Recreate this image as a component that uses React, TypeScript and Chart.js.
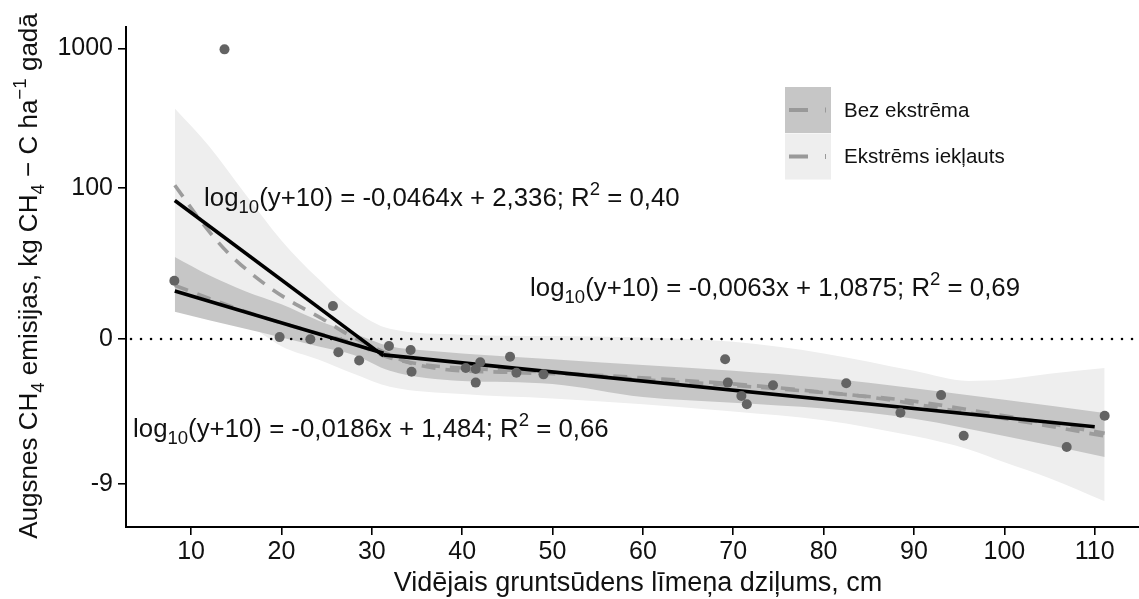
import React, { useEffect, useRef } from "react";
import { Chart, registerables } from "chart.js";

Chart.register(...registerables);

const FONT = "'Liberation Sans', Arial, Helvetica, sans-serif";

// Observations: mean groundwater depth (cm) and soil CH4 emission (kg CH4-C ha-1 yr-1)
const depthCm = [
  8.15, 13.7, 19.8, 23.2, 25.7, 26.3, 28.6, 31.9, 34.3, 34.4, 40.4, 41.5, 41.5, 42.0,
  45.3, 46.0, 49.0, 69.1, 69.4, 70.9, 71.5, 74.4, 82.5, 88.5, 93.0, 95.5, 106.9, 111.1,
];
const emission = [
  15.2, 985, 0.3, -0.05, 6.9, -1.9, -2.9, -1.05, -1.6, -4.05, -3.7, -3.8, -5.0, -3.1,
  -2.45, -4.15, -4.3, -2.75, -5.0, -5.95, -6.45, -5.2, -5.05, -6.9, -5.9, -7.85, -8.2, -7.05,
];

// Axis settings (y axis is drawn on the log10(y + 10) scale)
const X_MIN = 2.8;
const X_MAX = 114.9;
const T_MIN = -0.297;
const T_MAX = 3.152;
const xTicks = [10, 20, 30, 40, 50, 60, 70, 80, 90, 100, 110];
const yTicks = [-9, 0, 100, 1000];

// Loess smooth with the extreme value included, on log10(y + 10)
const smoothAllX = [8.2, 11.5, 14, 17.3, 20.5, 24.5, 27.4, 31, 34, 38, 45, 55, 63, 70, 78, 85, 95, 103, 111.1];
const smoothAllT = [2.06, 1.78, 1.6, 1.42, 1.28, 1.14, 1.03, 0.92, 0.84, 0.79, 0.77, 0.75, 0.72, 0.69, 0.645, 0.6, 0.5, 0.42, 0.33];
const bandAllX = [8.2, 12, 16, 20, 24, 28, 32, 40, 50, 60, 70, 80, 90, 96, 100, 105, 111.1];
const bandAllLow = [1.51, 1.3, 1.12, 0.95, 0.86, 0.76, 0.67, 0.62, 0.59, 0.55, 0.5, 0.44, 0.33, 0.24, 0.15, 0.04, -0.12];
const bandAllHigh = [2.59, 2.33, 2.0, 1.68, 1.42, 1.2, 1.07, 1.03, 1.02, 1.01, 0.98, 0.9, 0.78, 0.71, 0.72, 0.76, 0.8];

// Loess smooth without the extreme value
const smoothNoX = [8.2, 12, 16, 20, 24, 28, 32, 36, 40, 50, 60, 70, 80, 90, 100, 111.1];
const smoothNoT = [1.37, 1.28, 1.19, 1.11, 1.04, 0.97, 0.87, 0.82, 0.8, 0.77, 0.72, 0.68, 0.63, 0.57, 0.47, 0.35];
const bandNoX = [8.2, 12, 16, 20, 24, 28, 32, 36, 40, 50, 60, 70, 80, 90, 100, 111.1];
const bandNoLow = [1.188, 1.13, 1.07, 1.01, 0.95, 0.89, 0.78, 0.73, 0.71, 0.69, 0.6, 0.56, 0.52, 0.45, 0.33, 0.186];
const bandNoHigh = [1.566, 1.44, 1.33, 1.24, 1.13, 1.04, 0.95, 0.92, 0.9, 0.86, 0.82, 0.78, 0.73, 0.66, 0.58, 0.49];

// Segmented linear fits: log10(y + 10) = slope * x + intercept
const fitSlope = [-0.0464, -0.0186, -0.0063];
const fitIntercept = [2.336, 1.484, 1.0875];
const fitR2 = [0.4, 0.66, 0.69];
const fitFrom = [8.2, 8.2, 31.3];
const fitTo = [31.3, 31.3, 110];

// Where each equation label starts (data units: x, log10(y + 10) baseline)
const labelAt = [
  [11.44, 1.917],
  [3.58, 0.324],
  [47.52, 1.297],
];

const legendLabels = ["Bez ekstrēma", "Ekstrēms iekļauts"];

const tf = (y: number) => Math.log10(y + 10);
const comma = (v: number) => String(v).replace(".", ",");

type Run = { t: string; k?: "sub" | "sup" };

function runsWidth(ctx: CanvasRenderingContext2D, runs: Run[], size: number) {
  let w = 0;
  for (const r of runs) {
    const fs = r.k ? size * 0.72 : size;
    ctx.font = `${fs}px ${FONT}`;
    w += ctx.measureText(r.t).width;
  }
  return w;
}

function drawRuns(ctx: CanvasRenderingContext2D, runs: Run[], x: number, y: number, size: number) {
  let cx = x;
  ctx.textBaseline = "alphabetic";
  ctx.textAlign = "left";
  for (const r of runs) {
    const fs = r.k ? size * 0.72 : size;
    const dy = r.k === "sub" ? size * 0.26 : r.k === "sup" ? -size * 0.42 : 0;
    ctx.font = `${fs}px ${FONT}`;
    ctx.fillText(r.t, cx, y + dy);
    cx += ctx.measureText(r.t).width;
  }
}

const decorations = {
  id: "decorations",
  afterDraw(chart: any) {
    const ctx: CanvasRenderingContext2D = chart.ctx;
    const xs = chart.scales.x;
    const ys = chart.scales.y;
    ctx.save();
    ctx.fillStyle = "#111";

    // fit equations
    for (let i = 0; i < fitSlope.length; i++) {
      const runs: Run[] = [
        { t: "log" },
        { t: "10", k: "sub" },
        { t: `(y+10) = ${comma(fitSlope[i])}x + ${comma(fitIntercept[i])}; R` },
        { t: "2", k: "sup" },
        { t: ` = ${fitR2[i].toFixed(2).replace(".", ",")}` },
      ];
      drawRuns(ctx, runs, xs.getPixelForValue(labelAt[i][0]), ys.getPixelForValue(labelAt[i][1]), 25.8);
    }

    // legend
    const lx = 785;
    const boxFill = ["#c6c6c6", "#eeeeee"];
    for (let i = 0; i < 2; i++) {
      const top = 87 + i * 46.5;
      ctx.fillStyle = boxFill[i];
      ctx.fillRect(lx, top, 46, 46);
      ctx.strokeStyle = "#999999";
      ctx.lineWidth = 4;
      ctx.beginPath();
      ctx.moveTo(789, top + 23);
      ctx.lineTo(808, top + 23);
      ctx.stroke();
      ctx.lineWidth = 1;
      ctx.beginPath();
      ctx.moveTo(825.5, top + 20.5);
      ctx.lineTo(825.5, top + 25.5);
      ctx.stroke();
      ctx.fillStyle = "#111";
      ctx.font = `20.5px ${FONT}`;
      ctx.textBaseline = "middle";
      ctx.textAlign = "left";
      ctx.fillText(legendLabels[i], 844, top + 24);
    }

    // axis titles
    ctx.fillStyle = "#111";
    const xTitle = "Vidējais gruntsūdens līmeņa dziļums, cm";
    ctx.font = `27px ${FONT}`;
    ctx.textAlign = "center";
    ctx.textBaseline = "alphabetic";
    ctx.fillText(xTitle, 638, 591);

    const yRuns: Run[] = [
      { t: "Augsnes CH" },
      { t: "4", k: "sub" },
      { t: " emisijas, kg CH" },
      { t: "4", k: "sub" },
      { t: " − C ha" },
      { t: "−1", k: "sup" },
      { t: " gadā" },
    ];
    const w = runsWidth(ctx, yRuns, 26);
    ctx.translate(37, 276);
    ctx.rotate(-Math.PI / 2);
    drawRuns(ctx, yRuns, -w / 2, 0, 26);
    ctx.restore();
  },
};

export default function App() {
  const ref = useRef<HTMLCanvasElement>(null);

  useEffect(() => {
    if (!ref.current) return;

    const pts = depthCm.map((x, i) => ({ x, y: tf(emission[i]) }));
    const xy = (xa: number[], ya: number[]) => xa.map((x, i) => ({ x, y: ya[i] }));
    const base = { pointRadius: 0, pointHoverRadius: 0, cubicInterpolationMode: "monotone" as const };

    const datasets: any[] = [
      {
        type: "scatter",
        data: pts,
        pointRadius: 5,
        pointHoverRadius: 5,
        pointBackgroundColor: "#636363",
        pointBorderWidth: 0,
        order: 0,
      },
      ...fitSlope.map((m, i) => ({
        type: "line",
        data: [
          { x: fitFrom[i], y: m * fitFrom[i] + fitIntercept[i] },
          { x: fitTo[i], y: m * fitTo[i] + fitIntercept[i] },
        ],
        borderColor: "#000",
        borderWidth: 3.6,
        borderCapStyle: "butt",
        pointRadius: 0,
        fill: false,
        order: 1,
      })),
      {
        type: "line",
        ...base,
        data: xy(smoothAllX, smoothAllT),
        borderColor: "#9c9c9c",
        borderWidth: 3.6,
        borderDash: [14, 10],
        fill: false,
        order: 2,
      },
      {
        type: "line",
        ...base,
        data: xy(smoothNoX, smoothNoT),
        borderColor: "#9c9c9c",
        borderWidth: 3.6,
        borderDash: [14, 10],
        fill: false,
        order: 2,
      },
      {
        type: "line",
        pointRadius: 0,
        data: [
          { x: X_MIN, y: tf(0) },
          { x: X_MAX, y: tf(0) },
        ],
        borderColor: "#000",
        borderWidth: 2.6,
        borderDash: [0.01, 10],
        borderDashOffset: 5,
        borderCapStyle: "round",
        fill: false,
        order: 2.5,
      },
      {
        type: "line",
        ...base,
        data: xy(bandNoX, bandNoLow),
        borderWidth: 0,
        fill: false,
        order: 3,
      },
      {
        type: "line",
        ...base,
        data: xy(bandNoX, bandNoHigh),
        borderWidth: 0,
        backgroundColor: "#c6c6c6",
        fill: "-1",
        order: 3,
      },
      {
        type: "line",
        ...base,
        data: xy(bandAllX, bandAllLow),
        borderWidth: 0,
        fill: false,
        order: 4,
      },
      {
        type: "line",
        ...base,
        data: xy(bandAllX, bandAllHigh),
        borderWidth: 0,
        backgroundColor: "#eeeeee",
        fill: "-1",
        order: 4,
      },
    ];

    const tickFont = { family: FONT, size: 25 };

    const chart = new Chart(ref.current, {
      type: "scatter",
      data: { datasets },
      options: {
        animation: false,
        responsive: false,
        events: [],
        layout: { autoPadding: false, padding: { top: 27, left: 0, right: 0, bottom: 0 } },
        plugins: { legend: { display: false }, tooltip: { enabled: false } },
        scales: {
          x: {
            type: "linear",
            min: X_MIN,
            max: X_MAX,
            afterBuildTicks: (s: any) => {
              s.ticks = xTicks.map((v) => ({ value: v }));
            },
            afterFit: (s: any) => {
              s.height = 72;
              s.paddingLeft = 0;
              s.paddingRight = 0;
            },
            ticks: { font: tickFont, color: "#111", padding: 2, maxRotation: 0, autoSkip: false },
            grid: { display: true, drawOnChartArea: false, drawTicks: true, tickLength: 8, color: "#000", lineWidth: 1.6 },
            border: { display: true, color: "#000", width: 2 },
          },
          y: {
            type: "linear",
            min: T_MIN,
            max: T_MAX,
            afterBuildTicks: (s: any) => {
              s.ticks = yTicks.map((v) => ({ value: tf(v) }));
            },
            afterFit: (s: any) => {
              s.width = 126;
              s.paddingTop = 0;
              s.paddingBottom = 0;
            },
            ticks: {
              font: tickFont,
              color: "#111",
              padding: 5,
              autoSkip: false,
              callback: (v: any) => {
                let best = 0;
                yTicks.forEach((t, i) => {
                  if (Math.abs(tf(t) - v) < Math.abs(tf(yTicks[best]) - v)) best = i;
                });
                return String(yTicks[best]);
              },
            },
            grid: { display: true, drawOnChartArea: false, drawTicks: true, tickLength: 8, color: "#000", lineWidth: 1.6 },
            border: { display: true, color: "#000", width: 2 },
          },
        },
      },
      plugins: [decorations],
    });

    return () => chart.destroy();
  }, []);

  return (
    <div style={{ position: "absolute", left: 0, top: 0, width: 1139, height: 599, background: "#fff" }}>
      <canvas ref={ref} width={1139} height={599} />
    </div>
  );
}
